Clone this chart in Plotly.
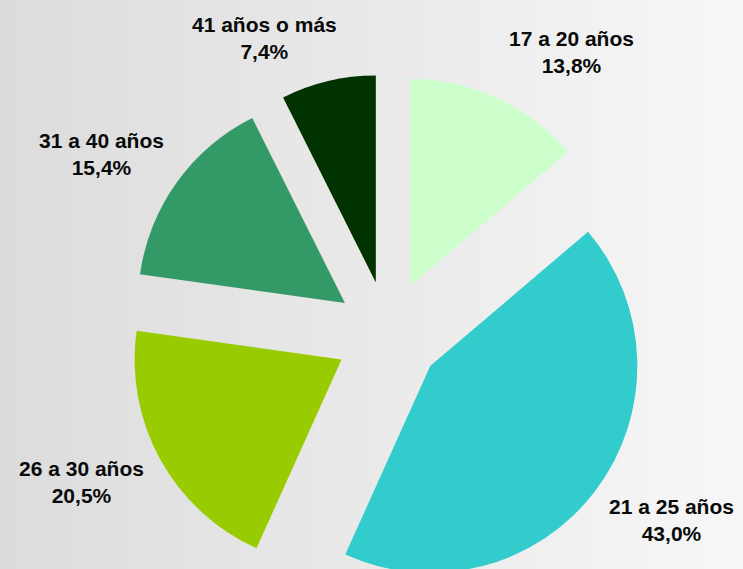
import plotly.graph_objects as go
import numpy as np

# ---- data ----
categories = ["17 a 20 años", "21 a 25 años", "26 a 30 años", "31 a 40 años", "41 años o más"]
shares = [13.8, 43.0, 20.5, 15.4, 7.4]
colors = ["#CCFFCC", "#33CCCC", "#99CC00", "#339966", "#003300"]

# ---- layout settings ----
W, H = 743, 600
# label anchor positions (pixels from top-left) for each category
label_px = [(571, 52), (671, 520), (81, 482), (101, 154), (264, 38)]

fig = go.Figure()

# background horizontal gradient
gx = np.linspace(0, 1, 50)
fig.add_trace(go.Heatmap(
    z=[gx, gx], x=gx, y=[0, 1],
    colorscale=[[0, "#dcdcdc"], [1, "#f7f7f7"]],
    showscale=False, zsmooth="best", hoverinfo="skip",
))

fig.add_trace(go.Pie(
    labels=categories, values=shares,
    marker=dict(colors=colors, line=dict(width=0)),
    sort=False, direction="clockwise", rotation=0,
    pull=[0.256] * len(shares),
    textinfo="none", hoverinfo="skip", showlegend=False,
    domain=dict(x=[0.1723, 0.8721], y=[1 - 594 / H, 1 - 74 / H]),
))

for cat, val, (px, py) in zip(categories, shares, label_px):
    txt = f"{cat}<br>{val:.1f}%".replace(".", ",")
    fig.add_annotation(
        x=px / W, y=1 - py / H, xref="paper", yref="paper",
        text=f"<b>{txt}</b>", showarrow=False,
        xanchor="center", yanchor="middle", align="center",
        font=dict(family="Arial, Liberation Sans, sans-serif", size=21, color="#0a0a0a"),
    )

fig.update_layout(
    width=W, height=H,
    margin=dict(l=0, r=0, t=0, b=0),
    paper_bgcolor="#eeeeee", plot_bgcolor="#eeeeee",
    xaxis=dict(visible=False, range=[0, 1], domain=[0, 1], fixedrange=True),
    yaxis=dict(visible=False, range=[0, 1], domain=[0, 1], fixedrange=True),
    showlegend=False,
)

fig.write_html(
    "out.html",
    config={"displayModeBar": False},
    post_script="document.body.style.margin='0';"
                "document.documentElement.style.overflow='hidden';"
                "document.body.style.overflow='hidden';",
)
